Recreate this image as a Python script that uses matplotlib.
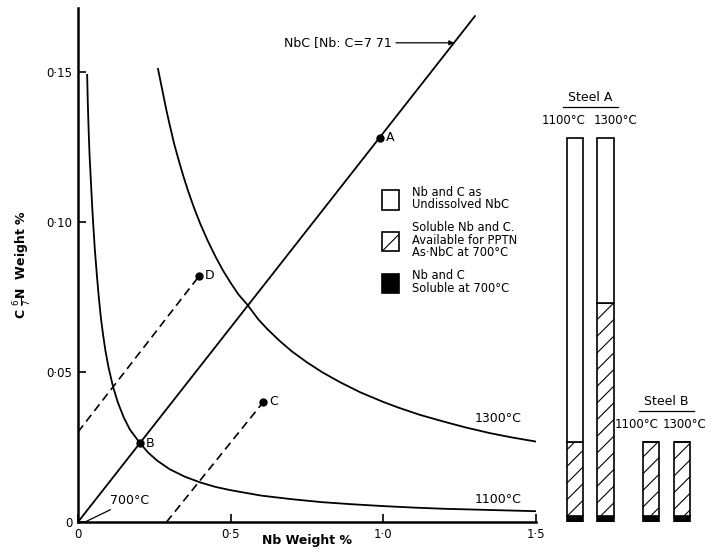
import matplotlib.pyplot as plt
from matplotlib.patches import Patch

# --- solubility curves (Nb wt %, C + 6/7 N wt %) ---
nb_1100 = [0.030, 0.032, 0.035, 0.038, 0.042, 0.046, 0.050, 0.055, 0.062, 0.068, 0.075,
           0.082, 0.090, 0.100, 0.115, 0.130, 0.150, 0.170, 0.203, 0.230, 0.260, 0.300,
           0.350, 0.400, 0.450, 0.500, 0.600, 0.700, 0.800, 0.900, 1.000, 1.100, 1.200,
           1.350, 1.500]
c_1100 = [0.149, 0.140, 0.130, 0.122, 0.114, 0.106, 0.099, 0.091, 0.082, 0.075, 0.068,
          0.0625, 0.057, 0.0515, 0.045, 0.040, 0.0348, 0.0308, 0.0263, 0.0231, 0.0204, 0.0176,
          0.0151, 0.0132, 0.0117, 0.0106, 0.0088, 0.0076, 0.0066, 0.0059, 0.0053, 0.0048, 0.0044,
          0.0040, 0.0036]

nb_1300 = [0.262, 0.270, 0.280, 0.290, 0.300, 0.315, 0.330, 0.345, 0.360, 0.380, 0.400,
           0.425, 0.450, 0.475, 0.500, 0.525, 0.554, 0.590, 0.620, 0.660, 0.700, 0.750,
           0.800, 0.860, 0.925, 1.000, 1.050, 1.120, 1.200, 1.270, 1.350, 1.420, 1.500]
c_1300 = [0.151, 0.147, 0.142, 0.137, 0.1325, 0.126, 0.1205, 0.1153, 0.1105, 0.1047, 0.0995,
          0.0937, 0.0885, 0.0838, 0.0797, 0.0759, 0.0725, 0.0676, 0.0643, 0.0604, 0.0569, 0.0532,
          0.0499, 0.0465, 0.0432, 0.0400, 0.0381, 0.0357, 0.0334, 0.0315, 0.0296, 0.0282, 0.0268]

# stoichiometric NbC line (Nb:C = 7.71)
nb_stoich = [0.0, 1.30]
c_stoich = [0.0, 0.1686]

# dashed lines through C and D
nb_dash_d = [0.0, 0.397]
c_dash_d = [0.030, 0.082]
nb_dash_c = [0.29, 0.607]
c_dash_c = [0.0, 0.040]

pt_names = ['A', 'B', 'C', 'D']
pt_nb = [0.99, 0.203, 0.607, 0.397]
pt_c = [0.128, 0.0263, 0.040, 0.082]

# --- bar diagram: steels A and B ---
bar_pos = [0, 1, 2.5, 3.5]
bar_temps = ['1100°C', '1300°C', '1100°C', '1300°C']
bar_total = [0.128, 0.128, 0.0267, 0.0267]
bar_ppt_top = [0.0267, 0.073, 0.0267, 0.0267]
bar_sol700 = [0.002, 0.002, 0.002, 0.002]

xticks = [0, 0.5, 1.0, 1.5]
xticklabels = ['0', '0·5', '1·0', '1·5']
yticks = [0, 0.05, 0.10, 0.15]
yticklabels = ['0', '0·05', '0·10', '0·15']

W, H = 712, 549
fig = plt.figure(figsize=(W / 100, H / 100), dpi=100)
plt.rcParams['hatch.linewidth'] = 0.8

x0, x1, y0, y1 = 78, 536, 522, 8
ax = fig.add_axes([x0 / W, (H - y0) / H, (x1 - x0) / W, (y0 - y1) / H])
ax.set_xlim(0, 1.5)
ax.set_ylim(0, 0.1713)

lw = 1.3
ax.plot(nb_1100, c_1100, color='black', lw=lw)
ax.plot(nb_1300, c_1300, color='black', lw=lw)
ax.plot(nb_stoich, c_stoich, color='black', lw=lw)
ax.plot(nb_dash_d, c_dash_d, color='black', lw=1.2, ls=(0, (5, 3)))
ax.plot(nb_dash_c, c_dash_c, color='black', lw=1.2, ls=(0, (5, 3)))
ax.plot(pt_nb, pt_c, 'o', color='black', ms=5)
for name, xv, yv in zip(pt_names, pt_nb, pt_c):
    ax.text(xv + 0.018, yv, name, fontsize=9, va='center', ha='left')

ax.text(1.30, 0.0345, '1300°C', fontsize=9, va='center')
ax.text(1.30, 0.0075, '1100°C', fontsize=9, va='center')
ax.annotate('700°C', xy=(0.023, 0.0), xytext=(0.105, 0.0072), fontsize=9, va='center',
            arrowprops=dict(arrowstyle='-', color='black', lw=0.9, shrinkA=0, shrinkB=0))
ax.annotate('NbC [Nb: C=7 71', xy=(1.232, 0.1597), xytext=(0.675, 0.1597), fontsize=9,
            va='center', arrowprops=dict(arrowstyle='-|>', color='black', lw=0.9,
                                         mutation_scale=7, shrinkA=1, shrinkB=0))

ax.set_xticks(xticks, xticklabels)
ax.set_yticks(yticks, yticklabels)
ax.tick_params(direction='in', length=6, width=1.2, labelsize=8.5, pad=4)
ax.spines['top'].set_visible(False)
ax.spines['right'].set_visible(False)
ax.spines['left'].set_linewidth(1.8)
ax.spines['bottom'].set_linewidth(1.8)
ax.set_xlabel('Nb Weight %', fontsize=9, fontweight='bold')
ax.xaxis.set_label_coords(0.5, -0.024)
ax.set_ylabel(r'C $\frac{6}{7}$N  Weight %', fontsize=9, fontweight='bold', labelpad=10)

handles = [Patch(facecolor='white', edgecolor='black', lw=1.2),
           Patch(facecolor='white', edgecolor='black', lw=1.2, hatch='/'),
           Patch(facecolor='black', edgecolor='black', lw=1.2)]
labels = ['Nb and C as\nUndissolved NbC',
          'Soluble Nb and C.\nAvailable for PPTN\nAs·NbC at 700°C',
          'Nb and C\nSoluble at 700°C']
leg = ax.legend(handles, labels, loc='upper left', bbox_to_anchor=(382 / W, 1 - 186 / H),
                bbox_transform=fig.transFigure, frameon=False, fontsize=8.3,
                handlelength=1.5, handleheight=2.2, handletextpad=1.1,
                labelspacing=0.85, borderpad=0, borderaxespad=0)
for t in leg.get_texts():
    t.set_linespacing(0.95)

# bar axes shares the same vertical scale
bx0, bx1 = 540, 712
ax2 = fig.add_axes([bx0 / W, (H - y0) / H, (bx1 - bx0) / W, (y0 - y1) / H])
ax2.set_ylim(0, 0.1713)
ax2.set_xlim(-35 / 30.5, (bx1 - bx0 - 35) / 30.5)
ax2.axis('off')
bw = 0.53
hatch_h = [t - s for t, s in zip(bar_ppt_top, bar_sol700)]
white_h = [t - p for t, p in zip(bar_total, bar_ppt_top)]
ax2.bar(bar_pos, bar_sol700, bw, color='black', edgecolor='black', lw=1.2)
ax2.bar(bar_pos, hatch_h, bw, bottom=bar_sol700, color='white', edgecolor='black',
        lw=1.2, hatch='//')
ax2.bar(bar_pos, white_h, bw, bottom=bar_ppt_top, color='white', edgecolor='black', lw=1.2)

label_off = [-0.36, 0.33, -0.47, 0.1]
for p, t, top, off in zip(bar_pos, bar_temps, bar_total, label_off):
    ax2.text(p + off, top + 0.0035, t, fontsize=8.5, ha='center', va='bottom')

for name, xc, top in [('Steel A', 0.5, 0.128), ('Steel B', 3.0, 0.0267)]:
    ty = top + 0.0112
    ax2.text(xc, ty, name, fontsize=9, ha='center', va='bottom')
    ax2.plot([xc - 0.9, xc + 0.9], [ty - 0.0008, ty - 0.0008], color='black', lw=0.9)

fig.savefig('out.png', dpi=100)
